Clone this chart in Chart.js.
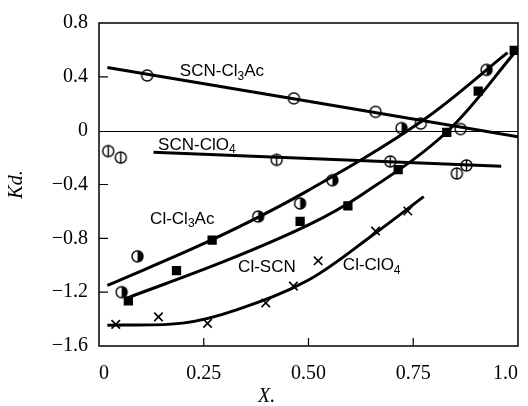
<!DOCTYPE html>
<html>
<head>
<meta charset="utf-8">
<script src="https://cdn.jsdelivr.net/npm/chart.js@4.4.0/dist/chart.umd.min.js"></script>
<style>
  html, body { margin: 0; padding: 0; background: #fff; }
  canvas { display: block; }
</style>
</head>
<body>
<canvas id="kdChart" width="528" height="406"></canvas>
<script>
// axes
const xTickValues = [0, 0.25, 0.5, 0.75, 1.0];
const xTickLabels = ['0', '0.25', '0.50', '0.75', '1.0'];
const yTickValues = [0.8, 0.4, 0, -0.4, -0.8, -1.2, -1.6];
const yTickLabels = ['0.8', '0.4', '0', '\u22120.4', '\u22120.8', '\u22121.2', '\u22121.6'];

// measured points
const scnCl3AcX = [0.115, 0.465, 0.66, 0.768, 0.863];
const scnCl3AcY = [0.41, 0.24, 0.14, 0.053, 0.012];
const scnClO4X = [0.022, 0.052, 0.424, 0.695, 0.854, 0.877];
const scnClO4Y = [-0.152, -0.20, -0.217, -0.229, -0.318, -0.258];
const clCl3AcX = [0.054, 0.092, 0.38, 0.48, 0.557, 0.722, 0.925];
const clCl3AcY = [-1.20, -0.934, -0.638, -0.541, -0.368, 0.019, 0.452];
const clScnX = [0.07, 0.185, 0.27, 0.48, 0.594, 0.714, 0.83, 0.905, 0.991];
const clScnY = [-1.264, -1.04, -0.813, -0.674, -0.558, -0.289, -0.012, 0.294, 0.597];
const clClO4X = [0.04, 0.142, 0.259, 0.398, 0.464, 0.523, 0.66, 0.737];
const clClO4Y = [-1.439, -1.384, -1.432, -1.28, -1.155, -0.967, -0.746, -0.597];

// drawn curves
const scnCl3AcLineX = [0.02, 1.0];
const scnCl3AcLineY = [0.47, -0.045];
const scnClO4LineX = [0.13, 0.96];
const scnClO4LineY = [-0.16, -0.265];
const clCl3AcLineX = [0.02, 0.27, 0.49, 0.77, 0.975];
const clCl3AcLineY = [-1.15, -0.81, -0.46, 0.07, 0.58];
const clScnLineX = [0.07, 0.30, 0.50, 0.63, 0.83, 1.0];
const clScnLineY = [-1.24, -0.97, -0.70, -0.47, -0.01, 0.61];
const clClO4LineX = [0.02, 0.20, 0.33, 0.50, 0.66, 0.775];
const clClO4LineY = [-1.445, -1.43, -1.33, -1.11, -0.76, -0.49];

// curve names, '_3' = subscript
const curveNames = ['SCN-Cl_3Ac', 'SCN-ClO_4', 'Cl-Cl_3Ac', 'Cl-SCN', 'Cl-ClO_4'];
const nameAnchorX = [0.193, 0.141, 0.122, 0.332, 0.582];
const nameAnchorY = [0.44, -0.108, -0.657, -1.018, -1.004];

const pts = (xs, ys) => xs.map((x, i) => ({ x, y: ys[i] }));

function makeMarker(kind) {
  const c = document.createElement('canvas');
  c.width = 15;
  c.height = 15;
  const g = c.getContext('2d');
  g.strokeStyle = '#000';
  g.fillStyle = '#000';
  g.lineWidth = 1.4;
  g.beginPath();
  g.arc(7.5, 7.5, 5.5, 0, Math.PI * 2);
  g.stroke();
  if (kind === 'vbar') {
    g.beginPath();
    g.moveTo(7.5, 2);
    g.lineTo(7.5, 13);
    g.stroke();
  }
  if (kind === 'half') {
    g.beginPath();
    g.arc(7.5, 7.5, 5.5, -Math.PI / 2, Math.PI / 2);
    g.closePath();
    g.fill();
  }
  return c;
}

const curve = (data) => ({
  data,
  showLine: true,
  borderColor: '#000',
  borderWidth: 3,
  pointRadius: 0,
  tension: 0.35,
  order: 2,
});

const marks = (data, style, extra) => Object.assign({
  data,
  showLine: false,
  pointStyle: style,
  pointRadius: 5,
  borderColor: '#000',
  backgroundColor: '#000',
  borderWidth: 1.5,
  order: 1,
}, extra || {});

function drawRich(ctx, text, x, y, size) {
  const parts = text.split(/_(\d)/);
  let cx = x;
  parts.forEach((p, i) => {
    const sub = i % 2 === 1;
    ctx.font = `${sub ? Math.round(size * 0.68) : size}px "Liberation Sans"`;
    ctx.fillText(p, cx, sub ? y + size * 0.28 : y);
    cx += ctx.measureText(p).width;
  });
}

// frame, zero line, inner ticks, titles, curve names
const decorations = {
  id: 'decorations',
  beforeDatasetsDraw(chart) {
    const { ctx, chartArea: { left, right }, scales: { y } } = chart;
    ctx.save();
    ctx.strokeStyle = '#000';
    ctx.lineWidth = 1;
    const y0 = Math.round(y.getPixelForValue(0)) + 0.5;
    ctx.beginPath();
    ctx.moveTo(left, y0);
    ctx.lineTo(right, y0);
    ctx.stroke();
    ctx.restore();
  },
  afterDraw(chart) {
    const { ctx, chartArea: { left, right, top, bottom }, scales: { x, y } } = chart;
    ctx.save();
    ctx.strokeStyle = '#000';
    ctx.lineWidth = 1.5;
    ctx.strokeRect(left, top, right - left, bottom - top);
    ctx.lineWidth = 1.2;
    ctx.beginPath();
    [0.25, 0.5, 0.75].forEach((v) => {
      const px = x.getPixelForValue(v);
      ctx.moveTo(px, bottom);
      ctx.lineTo(px, bottom - 8);
    });
    [0.4, -0.4, -0.8, -1.2].forEach((v) => {
      const py = y.getPixelForValue(v);
      ctx.moveTo(left, py);
      ctx.lineTo(left + 9, py);
    });
    ctx.stroke();

    ctx.fillStyle = '#000';
    ctx.textBaseline = 'middle';
    ctx.textAlign = 'left';
    curveNames.forEach((name, i) => {
      drawRich(ctx, name, x.getPixelForValue(nameAnchorX[i]), y.getPixelForValue(nameAnchorY[i]), 17);
    });

    ctx.font = 'italic 20px "Liberation Serif"';
    ctx.textAlign = 'center';
    ctx.fillText('X.', x.getPixelForValue(0.4), 397);
    ctx.translate(17, (top + bottom) / 2);
    ctx.rotate(-Math.PI / 2);
    ctx.fillText('Kd.', 0, 0);
    ctx.restore();
  },
};

const tickFont = { family: '"Liberation Serif"', size: 20 };

new Chart(document.getElementById('kdChart').getContext('2d'), {
  type: 'scatter',
  data: {
    datasets: [
      curve(pts(scnCl3AcLineX, scnCl3AcLineY)),
      curve(pts(scnClO4LineX, scnClO4LineY)),
      curve(pts(clCl3AcLineX, clCl3AcLineY)),
      curve(pts(clScnLineX, clScnLineY)),
      curve(pts(clClO4LineX, clClO4LineY)),
      marks(pts(scnCl3AcX, scnCl3AcY), makeMarker('open')),
      marks(pts(scnClO4X, scnClO4Y), makeMarker('vbar')),
      marks(pts(clCl3AcX, clCl3AcY), makeMarker('half')),
      marks(pts(clScnX, clScnY), 'rect', { pointRadius: 5.5 }),
      marks(pts(clClO4X, clClO4Y), 'crossRot', { pointRadius: 6, borderWidth: 1.6 }),
    ],
  },
  options: {
    responsive: false,
    animation: false,
    devicePixelRatio: 1,
    layout: { padding: { top: 15, right: 10, left: 0, bottom: 0 } },
    scales: {
      x: {
        type: 'linear',
        min: 0,
        max: 1.0,
        grid: { display: false, drawTicks: false },
        border: { display: false },
        afterBuildTicks: (scale) => { scale.ticks = xTickValues.map((v) => ({ value: v })); },
        afterFit: (scale) => { scale.height = 60; scale.paddingLeft = 0; scale.paddingRight = 0; },
        ticks: {
          color: '#000',
          font: tickFont,
          padding: 16,
          maxRotation: 0,
          align: 'inner',
          callback: (value, index) => xTickLabels[index],
        },
      },
      y: {
        type: 'linear',
        min: -1.6,
        max: 0.8,
        grid: { display: false, drawTicks: false },
        border: { display: false },
        afterBuildTicks: (scale) => { scale.ticks = yTickValues.map((v) => ({ value: v })); },
        afterFit: (scale) => { scale.width = 99; },
        ticks: {
          color: '#000',
          font: tickFont,
          padding: 11,
          callback: (value, index) => yTickLabels[index],
        },
      },
    },
    plugins: {
      legend: { display: false },
      tooltip: { enabled: false },
    },
  },
  plugins: [decorations],
});
</script>
</body>
</html>
